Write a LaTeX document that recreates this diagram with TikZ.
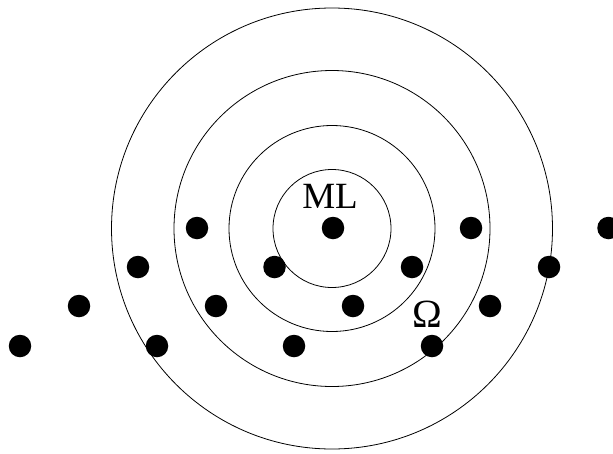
\documentclass[tikz,border=0pt]{standalone}
\usepackage{fontspec}
\setmainfont{Liberation Serif}
\begin{document}
\begin{tikzpicture}[x=1pt,y=-1pt,
  ring/.style={draw=black,line width=0.8pt},
  dot/.style={circle,fill=black,inner sep=0pt,minimum size=22.5pt},
  lbl/.style={inner sep=0pt,anchor=base,font=\fontsize{37}{37}\selectfont}]
\useasboundingbox (0,0) rectangle (613,453);
\coordinate (c) at (332,228.5);
\draw[ring] (c) circle[radius=59];
\draw[ring] (c) circle[radius=103];
\draw[ring] (c) circle[radius=158];
\draw[ring] (c) circle[radius=220.5];
% row 1
\node[dot] (a1) at (197,228) {};
\node[dot] (a2) at (333,228) {};
\node[dot] (a3) at (471,228) {};
\node[dot] (a4) at (608.5,228) {};
% row 2
\node[dot] (b1) at (138,267) {};
\node[dot] (b2) at (274.5,267) {};
\node[dot] (b3) at (412,267) {};
\node[dot] (b4) at (549,267) {};
% row 3
\node[dot] (c1) at (79,306) {};
\node[dot] (c2) at (216,306) {};
\node[dot] (c3) at (353,306) {};
\node[dot] (c4) at (490,306) {};
% row 4
\node[dot] (d1) at (20,346) {};
\node[dot] (d2) at (157,346) {};
\node[dot] (d3) at (294,346) {};
\node[dot] (d4) at (432,346) {};
\node[lbl] (ml) at (330,208) {ML};
\node[lbl,font=\fontsize{40}{40}\selectfont] (om) at (427.5,327) {Ω};
\end{tikzpicture}
\end{document}
